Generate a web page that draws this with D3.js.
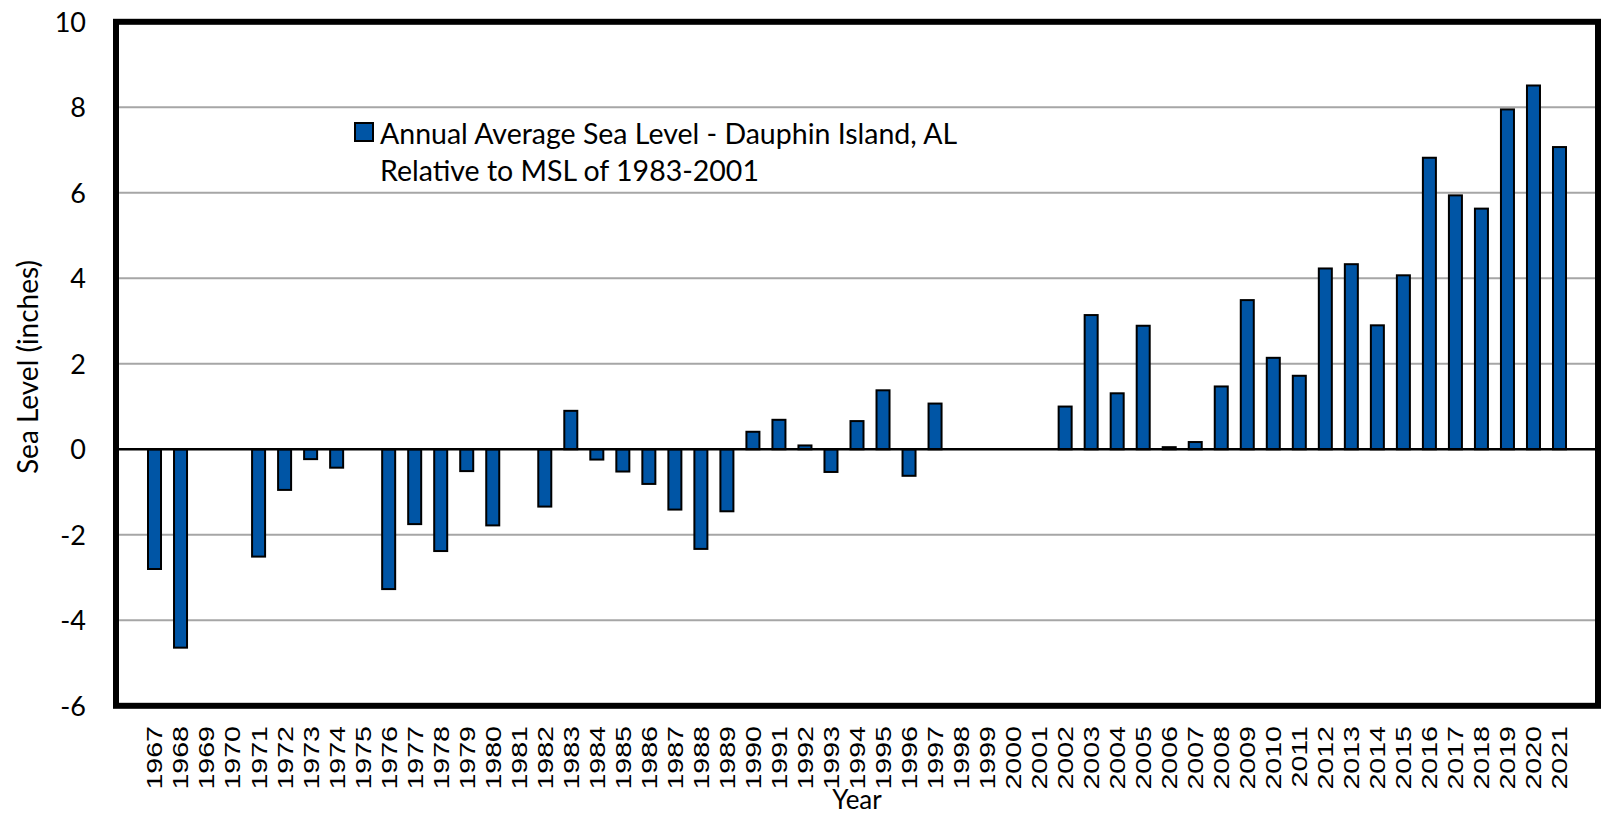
<!DOCTYPE html>
<html>
<head>
<meta charset="utf-8">
<script src="https://cdn.jsdelivr.net/npm/d3@7"></script>
<style>
  body { margin: 0; background: #fff; }
  svg { display: block; }
</style>
</head>
<body>
<div id="chart"></div>
<script>
// Years on the x axis
var years = d3.range(1967, 2022).map(String);

// Annual average sea level (inches), relative to MSL of 1983-2001
var seaLevel = [
  -2.80, -4.64, 0, 0, -2.51, -0.95, -0.23, -0.43, 0, -3.27,
  -1.75, -2.38, -0.51, -1.78, 0, -1.34, 0.90, -0.24, -0.52, -0.81,
  -1.41, -2.33, -1.45, 0.41, 0.69, 0.09, -0.53, 0.66, 1.38, -0.62,
  1.07, 0, 0, 0, 0, 1.00, 3.14, 1.31, 2.89, 0.05,
  0.17, 1.47, 3.49, 2.14, 1.72, 4.23, 4.33, 2.90, 4.07, 6.82,
  5.94, 5.63, 7.95, 8.51, 7.07
];

var yTicks = [-6, -4, -2, 0, 2, 4, 6, 8, 10];

var legendLines = ['Annual Average Sea Level - Dauphin Island, AL', 'Relative to MSL of 1983-2001'];

var width = 1601, height = 817;
var plotLeft = 116, plotRight = 1598, plotTop = 21.8, plotBottom = 705.8;

var svg = d3.select('#chart').append('svg')
  .attr('width', width)
  .attr('height', height);

var x = d3.scaleBand()
  .domain(years)
  .range([plotLeft, plotRight])
  .paddingInner(0.5)
  .paddingOuter(1.23);

var y = d3.scaleLinear()
  .domain([-6, 10])
  .range([plotBottom, plotTop]);

var barData = years.map(function (yr, i) { return { year: yr, value: seaLevel[i] }; })
  .filter(function (d) { return d.value !== 0; });

// grid lines (skip the frame edges and zero)
svg.append('g')
  .selectAll('line')
  .data(yTicks.filter(function (d) { return d !== 0 && d !== -6 && d !== 10; }))
  .enter().append('line')
  .attr('x1', plotLeft).attr('x2', plotRight)
  .attr('y1', function (d) { return y(d); })
  .attr('y2', function (d) { return y(d); })
  .attr('stroke', '#a6a6a6')
  .attr('stroke-width', 2);

// bars
svg.append('g')
  .selectAll('rect')
  .data(barData)
  .enter().append('rect')
  .attr('x', function (d) { return x(d.year); })
  .attr('width', x.bandwidth())
  .attr('y', function (d) { return y(Math.max(0, d.value)); })
  .attr('height', function (d) { return Math.abs(y(d.value) - y(0)); })
  .attr('fill', '#0055a5')
  .attr('stroke', '#000')
  .attr('stroke-width', 2);

// zero line
svg.append('line')
  .attr('x1', plotLeft).attr('x2', plotRight)
  .attr('y1', y(0)).attr('y2', y(0))
  .attr('stroke', '#000')
  .attr('stroke-width', 2.5);

// frame
svg.append('rect')
  .attr('x', plotLeft).attr('y', plotTop)
  .attr('width', plotRight - plotLeft).attr('height', plotBottom - plotTop)
  .attr('fill', 'none')
  .attr('stroke', '#000')
  .attr('stroke-width', 6);

// y tick labels
svg.append('g')
  .selectAll('text')
  .data(yTicks)
  .enter().append('text')
  .attr('x', 86)
  .attr('y', function (d) { return y(d); })
  .attr('dy', '0.36em')
  .attr('text-anchor', 'end')
  .style('font-family', 'Lato, sans-serif')
  .style('font-size', '27px')
  .attr('fill', '#000')
  .text(function (d) { return d; });

// x tick labels, rotated
svg.append('g')
  .selectAll('text')
  .data(years)
  .enter().append('text')
  .attr('transform', function (d) {
    return 'translate(' + (x(d) + x.bandwidth() / 2) + ',726) rotate(-90) scale(1.3,1)';
  })
  .attr('dy', '0.36em')
  .attr('text-anchor', 'end')
  .style('font-family', '"Liberation Sans", Arial, sans-serif')
  .style('font-size', '22px')
  .attr('fill', '#000')
  .text(function (d) { return d; });

// axis titles
svg.append('text')
  .attr('x', (plotLeft + plotRight) / 2)
  .attr('y', 809)
  .attr('text-anchor', 'middle')
  .style('font-family', 'Lato, sans-serif')
  .style('font-size', '26px')
  .text('Year');

svg.append('text')
  .attr('transform', 'translate(38,367) rotate(-90)')
  .attr('text-anchor', 'middle')
  .style('font-family', 'Lato, sans-serif')
  .style('font-size', '28px')
  .text('Sea Level (inches)');

// legend
var legend = svg.append('g');
legend.append('rect')
  .attr('x', 355).attr('y', 123)
  .attr('width', 18).attr('height', 18)
  .attr('fill', '#0055a5')
  .attr('stroke', '#000')
  .attr('stroke-width', 2);

legend.selectAll('text')
  .data(legendLines)
  .enter().append('text')
  .attr('x', 380)
  .attr('y', function (d, i) { return 134 + i * 36.5; })
  .attr('dy', '0.36em')
  .style('font-family', 'Lato, sans-serif')
  .style('font-size', '28.5px')
  .text(function (d) { return d; });
</script>
</body>
</html>
